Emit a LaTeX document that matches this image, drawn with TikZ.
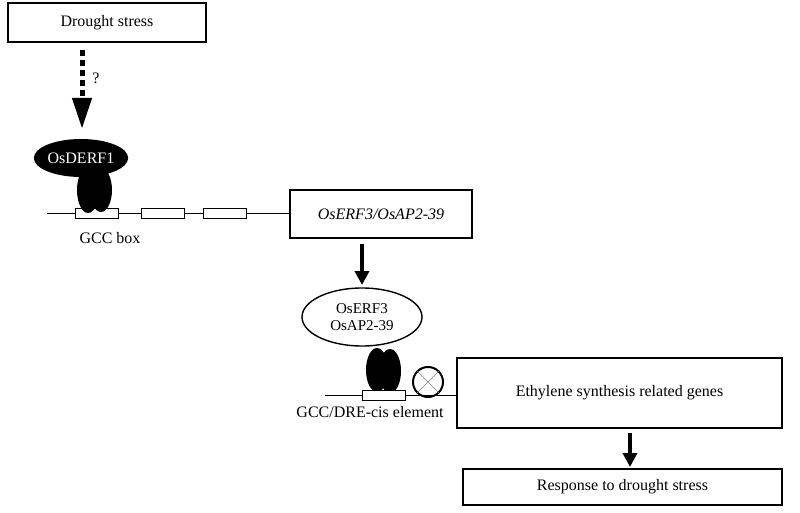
\documentclass[tikz,border=0pt]{standalone}
\usepackage{fontspec}
\setmainfont{Liberation Serif}
\usetikzlibrary{shapes.geometric,arrows.meta,positioning}
\tikzset{
  labelbox/.style={draw, line width=1.6pt, minimum height=#1, inner sep=0pt},
  site/.style={draw, fill=white, line width=0.6pt, minimum width=43pt, minimum height=10pt, inner sep=0pt},
  bigarrow/.style={line width=4pt, -{Triangle[width=14pt,length=14pt]}},
}
\begin{document}
\begin{tikzpicture}[x=1pt, y=-1pt, font=\fontsize{16}{19}\selectfont]
  \useasboundingbox (0,0) rectangle (800,513);
  % first stage
  \node[labelbox=39pt, minimum width=198pt] (drought) at (107,22.5) {Drought stress};
  \coordinate (dtop) at (82,50);
  \coordinate (dmid) at (82,98);
  \coordinate (dtip) at (82,128);
  \draw[line width=5pt, dash pattern=on 6pt off 4pt] (dtop) -- (dmid);
  \draw[-{Triangle[width=20pt,length=30pt]}, line width=1pt] (dmid) -- (dtip);
  \node (query) at (96,78) {?};
  \draw[line width=0.8pt] (47,213) -- (290,213);
  \node[site] (gcc1) at (96.5,213) {};
  \node[site] (gcc2) at (163,213) {};
  \node[site] (gcc3) at (224.5,213) {};
  \fill[black] (88,190) ellipse (11pt and 23pt);
  \fill[black] (101,190) ellipse (11pt and 22pt);
  \node[ellipse, fill=black, text=white, minimum width=88pt, minimum height=38pt, inner sep=0pt] (derf) at (81,158) {OsDERF1};
  \node (gcclabel) at (110,238) {GCC box};
  \node[labelbox=48pt, minimum width=182pt] (erf) at (381,214) {\itshape OsERF3/OsAP2-39};
  % second stage
  \coordinate (erfout) at (362,244);
  \coordinate (osapin) at (362,285);
  \draw[bigarrow] (erfout) -- (osapin);
  \draw[line width=0.8pt] (325,395) -- (457,395);
  \fill[black] (377,370) ellipse (11pt and 22pt);
  \fill[black] (390,371) ellipse (11pt and 22pt);
  \node[site] (dre) at (383.5,395) {};
  \node[ellipse, draw, line width=1.4pt, minimum width=120pt, minimum height=58pt, inner sep=0pt, align=center, font=\fontsize{15}{17}\selectfont] (osap) at (362,317) {OsERF3\\OsAP2-39};
  \node[circle, draw, line width=2pt, minimum size=30pt, inner sep=0pt] (inhib) at (428,382) {};
  \draw[gray, line width=0.6pt] (inhib.north west) -- (inhib.south east) (inhib.north east) -- (inhib.south west);
  \node (drelabel) at (370,412) {GCC/DRE-cis element};
  \node[labelbox=70pt, minimum width=325pt] (ethyl) at (619.5,393) {Ethylene synthesis related genes};
  \node[labelbox=36pt, minimum width=319pt] (resp) at (622.5,487) {Response to drought stress};
  \coordinate (ethout) at (630,433);
  \coordinate (respin) at (630,467);
  \draw[bigarrow] (ethout) -- (respin);
\end{tikzpicture}
\end{document}
